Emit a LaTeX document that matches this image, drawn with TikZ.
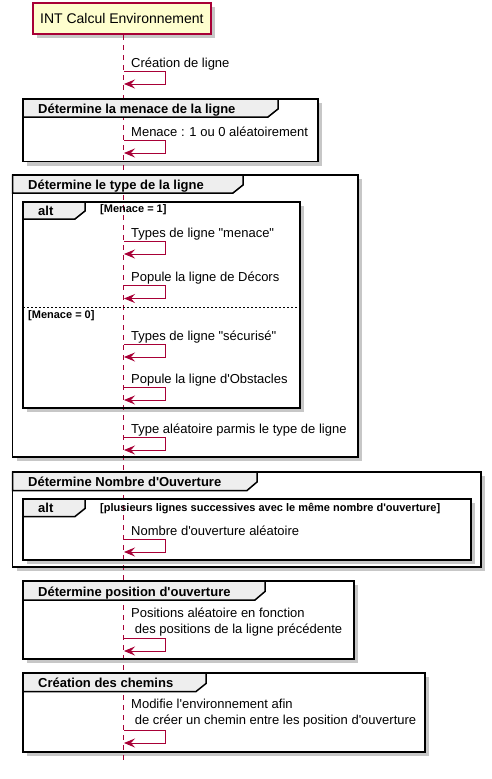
\documentclass[tikz,border=0pt]{standalone}
\usepackage{fontspec}
\setmainfont{Liberation Sans}
\usetikzlibrary{arrows.meta}
\definecolor{pumlred}{HTML}{A80036}
\definecolor{pumlyel}{HTML}{FEFECE}
\definecolor{hdrgray}{HTML}{EEEEEE}
\newcommand\dq{\textquotedbl}
\newcommand\sq{\textquotesingle}
\tikzset{
  msg/.style={anchor=base west, inner sep=0pt, font=\fontsize{13}{16}\selectfont, align=left},
  hdr/.style={anchor=base west, inner sep=0pt, font=\fontsize{13}{15}\selectfont\bfseries},
  guard/.style={anchor=base west, inner sep=0pt, font=\fontsize{11}{13}\selectfont\bfseries},
  frameline/.style={draw=black, line width=1.5pt},
  tabstyle/.style={draw=black, line width=1.5pt, fill=hdrgray, line join=miter},
  shadowfill/.style={fill=black!22},
  bodyfill/.style={fill=white},
  lifeline/.style={draw=pumlred, line width=1pt, dash pattern=on 5pt off 5pt},
  msgarrow/.style={draw=pumlred, line width=1pt, -{Stealth[length=11pt,width=9pt,inset=4pt]}},
  partbox/.style={draw=pumlred, line width=1.5pt, fill=pumlyel, minimum width=178pt, minimum height=31pt, inner sep=0pt, font=\fontsize{14}{16}\selectfont}
}
\begin{document}
\begin{tikzpicture}[x=1pt,y=-1pt]
\useasboundingbox (0,0) rectangle (491,779);
% ---- shadows and white bodies (outer first, then inner)
\foreach \xa/\ya/\xb/\yb in {33/3.3/210.7/34, 23/99/318/161.5, 12.5/175/358/457, 23/202/300/408, 12.5/472/481/567, 23/499/471/560, 23/581/354/659, 23/673/425/752}{
  \fill[shadowfill] (\xa+4,\ya+4) rectangle (\xb+4,\yb+4);
  \fill[bodyfill] (\xa,\ya) rectangle (\xb,\yb);
}
% ---- lifeline
\coordinate (lltop) at (123.5,35);
\coordinate (llbot) at (123.5,763);
\draw[lifeline] (lltop) -- (llbot);
% ---- participant
\node[partbox] (part) at (121.85,18.65) {INT Calcul Environnement};
% ---- group frames
\draw[frameline] (23,99) rectangle (318,161.5);
\draw[frameline] (12.5,175) rectangle (358,457);
\draw[frameline] (23,202) rectangle (300,408);
\draw[frameline] (12.5,472) rectangle (481,567);
\draw[frameline] (23,499) rectangle (471,560);
\draw[frameline] (23,581) rectangle (354,659);
\draw[frameline] (23,673) rectangle (425,752);
% ---- header tabs
\draw[tabstyle] (23,99) -- (278,99) -- (278,109) -- (268,117) -- (23,117) -- cycle;
\draw[tabstyle] (12.5,175) -- (243,175) -- (243,185) -- (233,193) -- (12.5,193) -- cycle;
\draw[tabstyle] (23,202) -- (85,202) -- (85,211) -- (75,219) -- (23,219) -- cycle;
\draw[tabstyle] (12.5,472) -- (257,472) -- (257,482) -- (247,490.5) -- (12.5,490.5) -- cycle;
\draw[tabstyle] (23,499) -- (85,499) -- (85,508.5) -- (75,516.5) -- (23,516.5) -- cycle;
\draw[tabstyle] (23,581) -- (265,581) -- (265,591.5) -- (255,600) -- (23,600) -- cycle;
\draw[tabstyle] (23,673) -- (206,673) -- (206,683.5) -- (196,691.5) -- (23,691.5) -- cycle;
% ---- header texts
\node[hdr] (h1) at (38,113.5) {Détermine la menace de la ligne};
\node[hdr] (h2) at (28,189) {Détermine le type de la ligne};
\node[hdr] (h3) at (38,215) {alt};
\node[guard] (g1) at (100,212.5) {[Menace = 1]};
\node[hdr] (h4) at (28,486) {Détermine Nombre d\sq Ouverture};
\node[hdr] (h5) at (38,512.5) {alt};
\node[guard] (g3) at (100,511.5) {[plusieurs lignes successives avec le même nombre d\sq ouverture]};
\node[hdr] (h6) at (38,596) {Détermine position d\sq ouverture};
\node[hdr] (h7) at (38,687.5) {Création des chemins};
% ---- alt separator
\draw[black, line width=0.8pt, dash pattern=on 2pt off 2pt] (23,307) -- (300,307);
\node[guard] (g2) at (28,318) {[Menace = 0]};
% ---- messages
\node[msg] (m1) at (131,67) {Création de ligne};
\node[msg] (m2) at (131,136) {Menace : 1 ou 0 aléatoirement};
\node[msg] (m3) at (131,237) {Types de ligne \dq menace\dq};
\node[msg] (m4) at (131,281.5) {Popule la ligne de Décors};
\node[msg] (m5) at (131,340) {Types de ligne \dq sécurisé\dq};
\node[msg] (m6) at (131,383) {Popule la ligne d\sq Obstacles};
\node[msg] (m7) at (131,433) {Type aléatoire parmis le type de ligne};
\node[msg] (m8) at (131,535) {Nombre d\sq ouverture aléatoire};
\node[msg] (m9) at (131,633) {Positions aléatoire en fonction\\\hspace{3.6pt}des positions de la ligne précédente};
\node[msg] (m10) at (131,724) {Modifie l\sq environnement afin\\\hspace{3.6pt}de créer un chemin entre les position d\sq ouverture};
% ---- self arrows
\foreach \t in {71,140,241,285.5,344,387,437,539,638,730}{
  \draw[msgarrow] (124,\t) -- (165.5,\t) -- (165.5,\t+13) -- (124,\t+13);
}
\end{tikzpicture}
\end{document}
